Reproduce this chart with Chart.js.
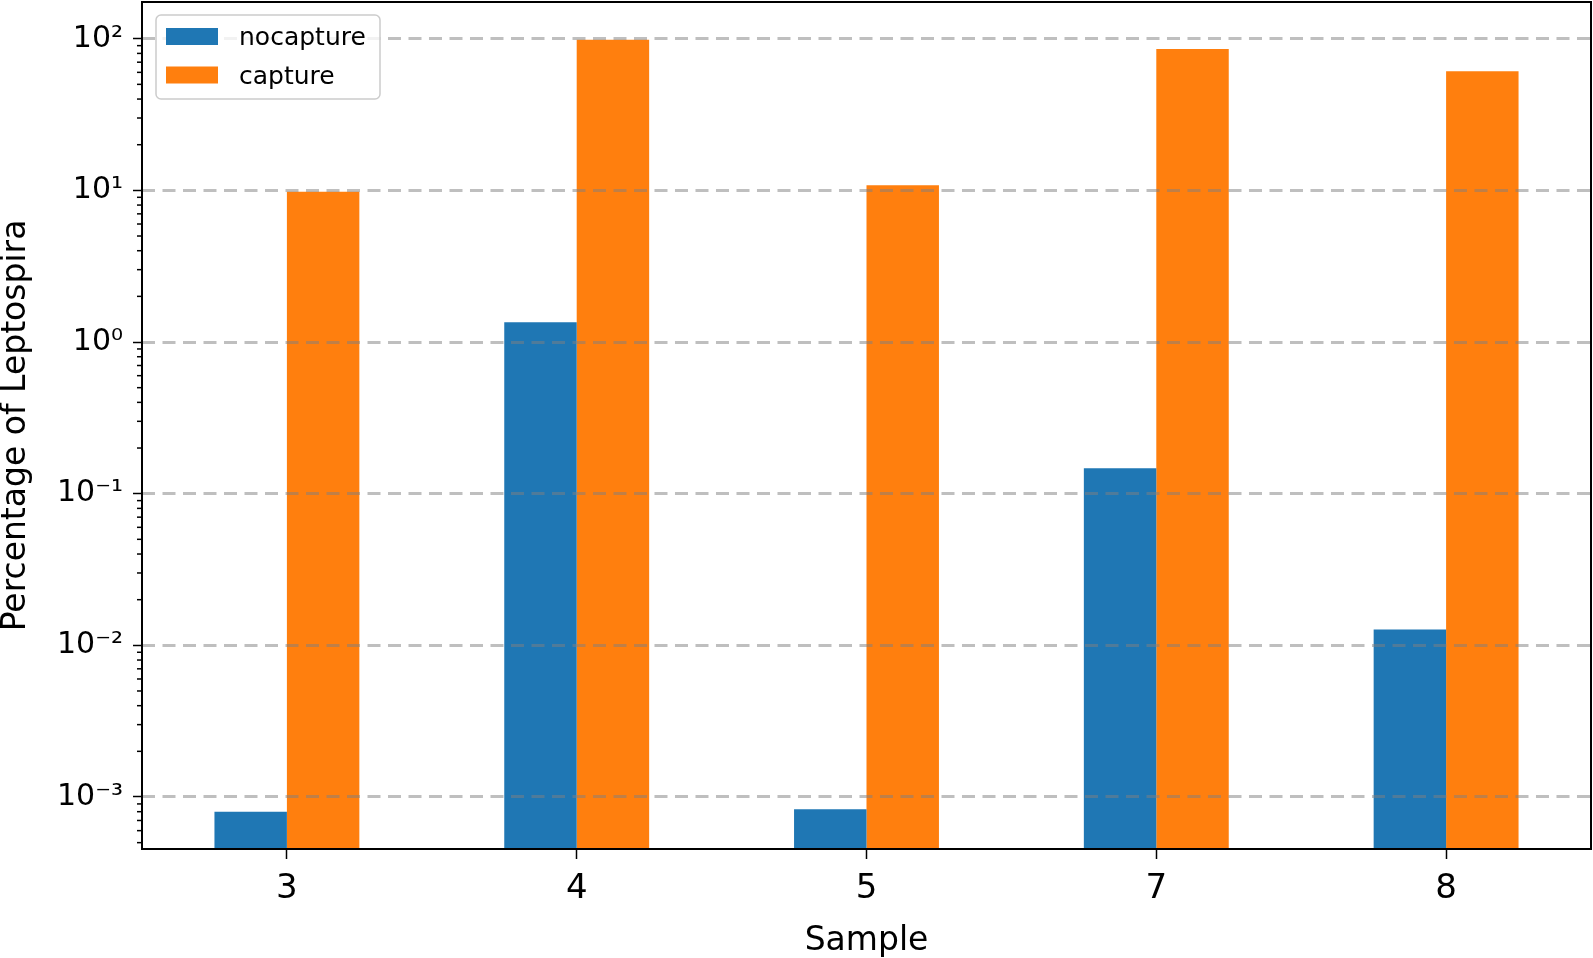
<!DOCTYPE html>
<html>
<head>
<meta charset="utf-8">
<script src="https://cdn.jsdelivr.net/npm/chart.js@4.4.1/dist/chart.umd.min.js"></script>
<style>
html, body { margin: 0; padding: 0; background: #fff; }
#wrap { width: 1593px; height: 958px; position: relative; }
</style>
</head>
<body>
<div id="wrap"><canvas id="chart"></canvas></div>
<script>
// data
const samples = ['3', '4', '5', '7', '8'];
const nocapture = [0.00080, 1.35, 0.00083, 0.147, 0.0127];
const capture = [9.8, 98.5, 10.8, 85.5, 61];
const yTickValues = [1e-3, 1e-2, 1e-1, 1, 10, 100];
const yMin = 4.54e-4;
const yMax = 174.6;

const FONT = '"DejaVu Sans", sans-serif';
Chart.defaults.font.family = FONT;
Chart.defaults.color = '#000';

const sup = { '-': '\u207B', '0': '\u2070', '1': '\u00B9', '2': '\u00B2', '3': '\u00B3' };
function powLabel(v) {
    const e = String(Math.round(Math.log10(v)));
    return '10' + e.split('').map(c => sup[c]).join('');
}

// frame round the plot + short minor ticks on the log axis
const frame = {
    id: 'frame',
    afterDraw(chart) {
        const { ctx, chartArea: a } = chart;
        const y = chart.scales.y;
        ctx.save();
        ctx.strokeStyle = '#000';
        ctx.lineWidth = 1.5;
        for (let e = -4; e <= 2; e++) {
            for (let m = 2; m <= 9; m++) {
                const v = m * Math.pow(10, e);
                if (v <= yMin || v >= yMax) continue;
                const py = y.getPixelForValue(v);
                ctx.beginPath();
                ctx.moveTo(a.left - 5, py);
                ctx.lineTo(a.left, py);
                ctx.stroke();
            }
        }
        ctx.lineWidth = 2;
        ctx.strokeRect(a.left, a.top, a.right - a.left, a.bottom - a.top);
        ctx.restore();
    }
};

// matplotlib style legend in the upper left corner
const legendBox = {
    id: 'legendBox',
    afterDraw(chart) {
        const { ctx, chartArea } = chart;
        const x = chartArea.left + 14, y = chartArea.top + 13, w = 224, h = 84;
        ctx.save();
        ctx.beginPath();
        ctx.roundRect(x, y, w, h, 5);
        ctx.fillStyle = 'rgba(255,255,255,0.8)';
        ctx.fill();
        ctx.strokeStyle = '#cccccc';
        ctx.lineWidth = 1.5;
        ctx.stroke();
        chart.data.datasets.forEach((ds, i) => {
            const rowY = y + 13 + i * 38.5;
            ctx.fillStyle = ds.backgroundColor;
            ctx.fillRect(x + 10, rowY, 52, 17);
            ctx.fillStyle = '#000';
            ctx.font = '25px ' + FONT;
            ctx.textBaseline = 'alphabetic';
            ctx.fillText(ds.label, x + 83, rowY + 17);
        });
        ctx.restore();
    }
};

new Chart(document.getElementById('chart'), {
    type: 'bar',
    data: {
        labels: samples,
        datasets: [
            { label: 'nocapture', data: nocapture, backgroundColor: '#1f77b4', borderWidth: 0, categoryPercentage: 0.5, barPercentage: 1.0 },
            { label: 'capture', data: capture, backgroundColor: '#ff7f0e', borderWidth: 0, categoryPercentage: 0.5, barPercentage: 1.0 }
        ]
    },
    options: {
        responsive: true,
        maintainAspectRatio: false,
        animation: false,
        layout: { autoPadding: false, padding: { top: 2, right: 2, left: 0, bottom: 0 } },
        plugins: {
            legend: { display: false },
            tooltip: { enabled: false }
        },
        scales: {
            x: {
                afterFit: s => { s.height = 109; s.paddingLeft = 0; s.paddingRight = 0; },
                border: { display: false },
                grid: { drawOnChartArea: false, offset: false, drawTicks: true, tickLength: 10, tickColor: '#000', tickWidth: 1.5 },
                ticks: { padding: 10, color: '#000', font: { size: 34 } },
                title: { display: true, text: 'Sample', color: '#000', font: { size: 33, lineHeight: 1 }, padding: { top: 0, bottom: 0 } }
            },
            y: {
                type: 'logarithmic',
                min: yMin,
                max: yMax,
                afterBuildTicks: s => { s.ticks = yTickValues.map(v => ({ value: v })); },
                afterFit: s => { s.width = 142; s.paddingTop = 0; s.paddingBottom = 0; },
                border: { display: false, dash: [13, 7.5] },
                grid: { z: 1, color: 'rgba(128,128,128,0.5)', lineWidth: 3, drawTicks: true, tickLength: 9, tickColor: '#000', tickWidth: 1.5, tickBorderDash: [] },
                ticks: { padding: 10, color: '#000', font: { size: 30 }, callback: v => powLabel(v) },
                title: { display: true, text: 'Percentage of Leptospira', color: '#000', font: { size: 33, lineHeight: 1 }, padding: 0 }
            }
        }
    },
    plugins: [frame, legendBox]
});
</script>
</body>
</html>
